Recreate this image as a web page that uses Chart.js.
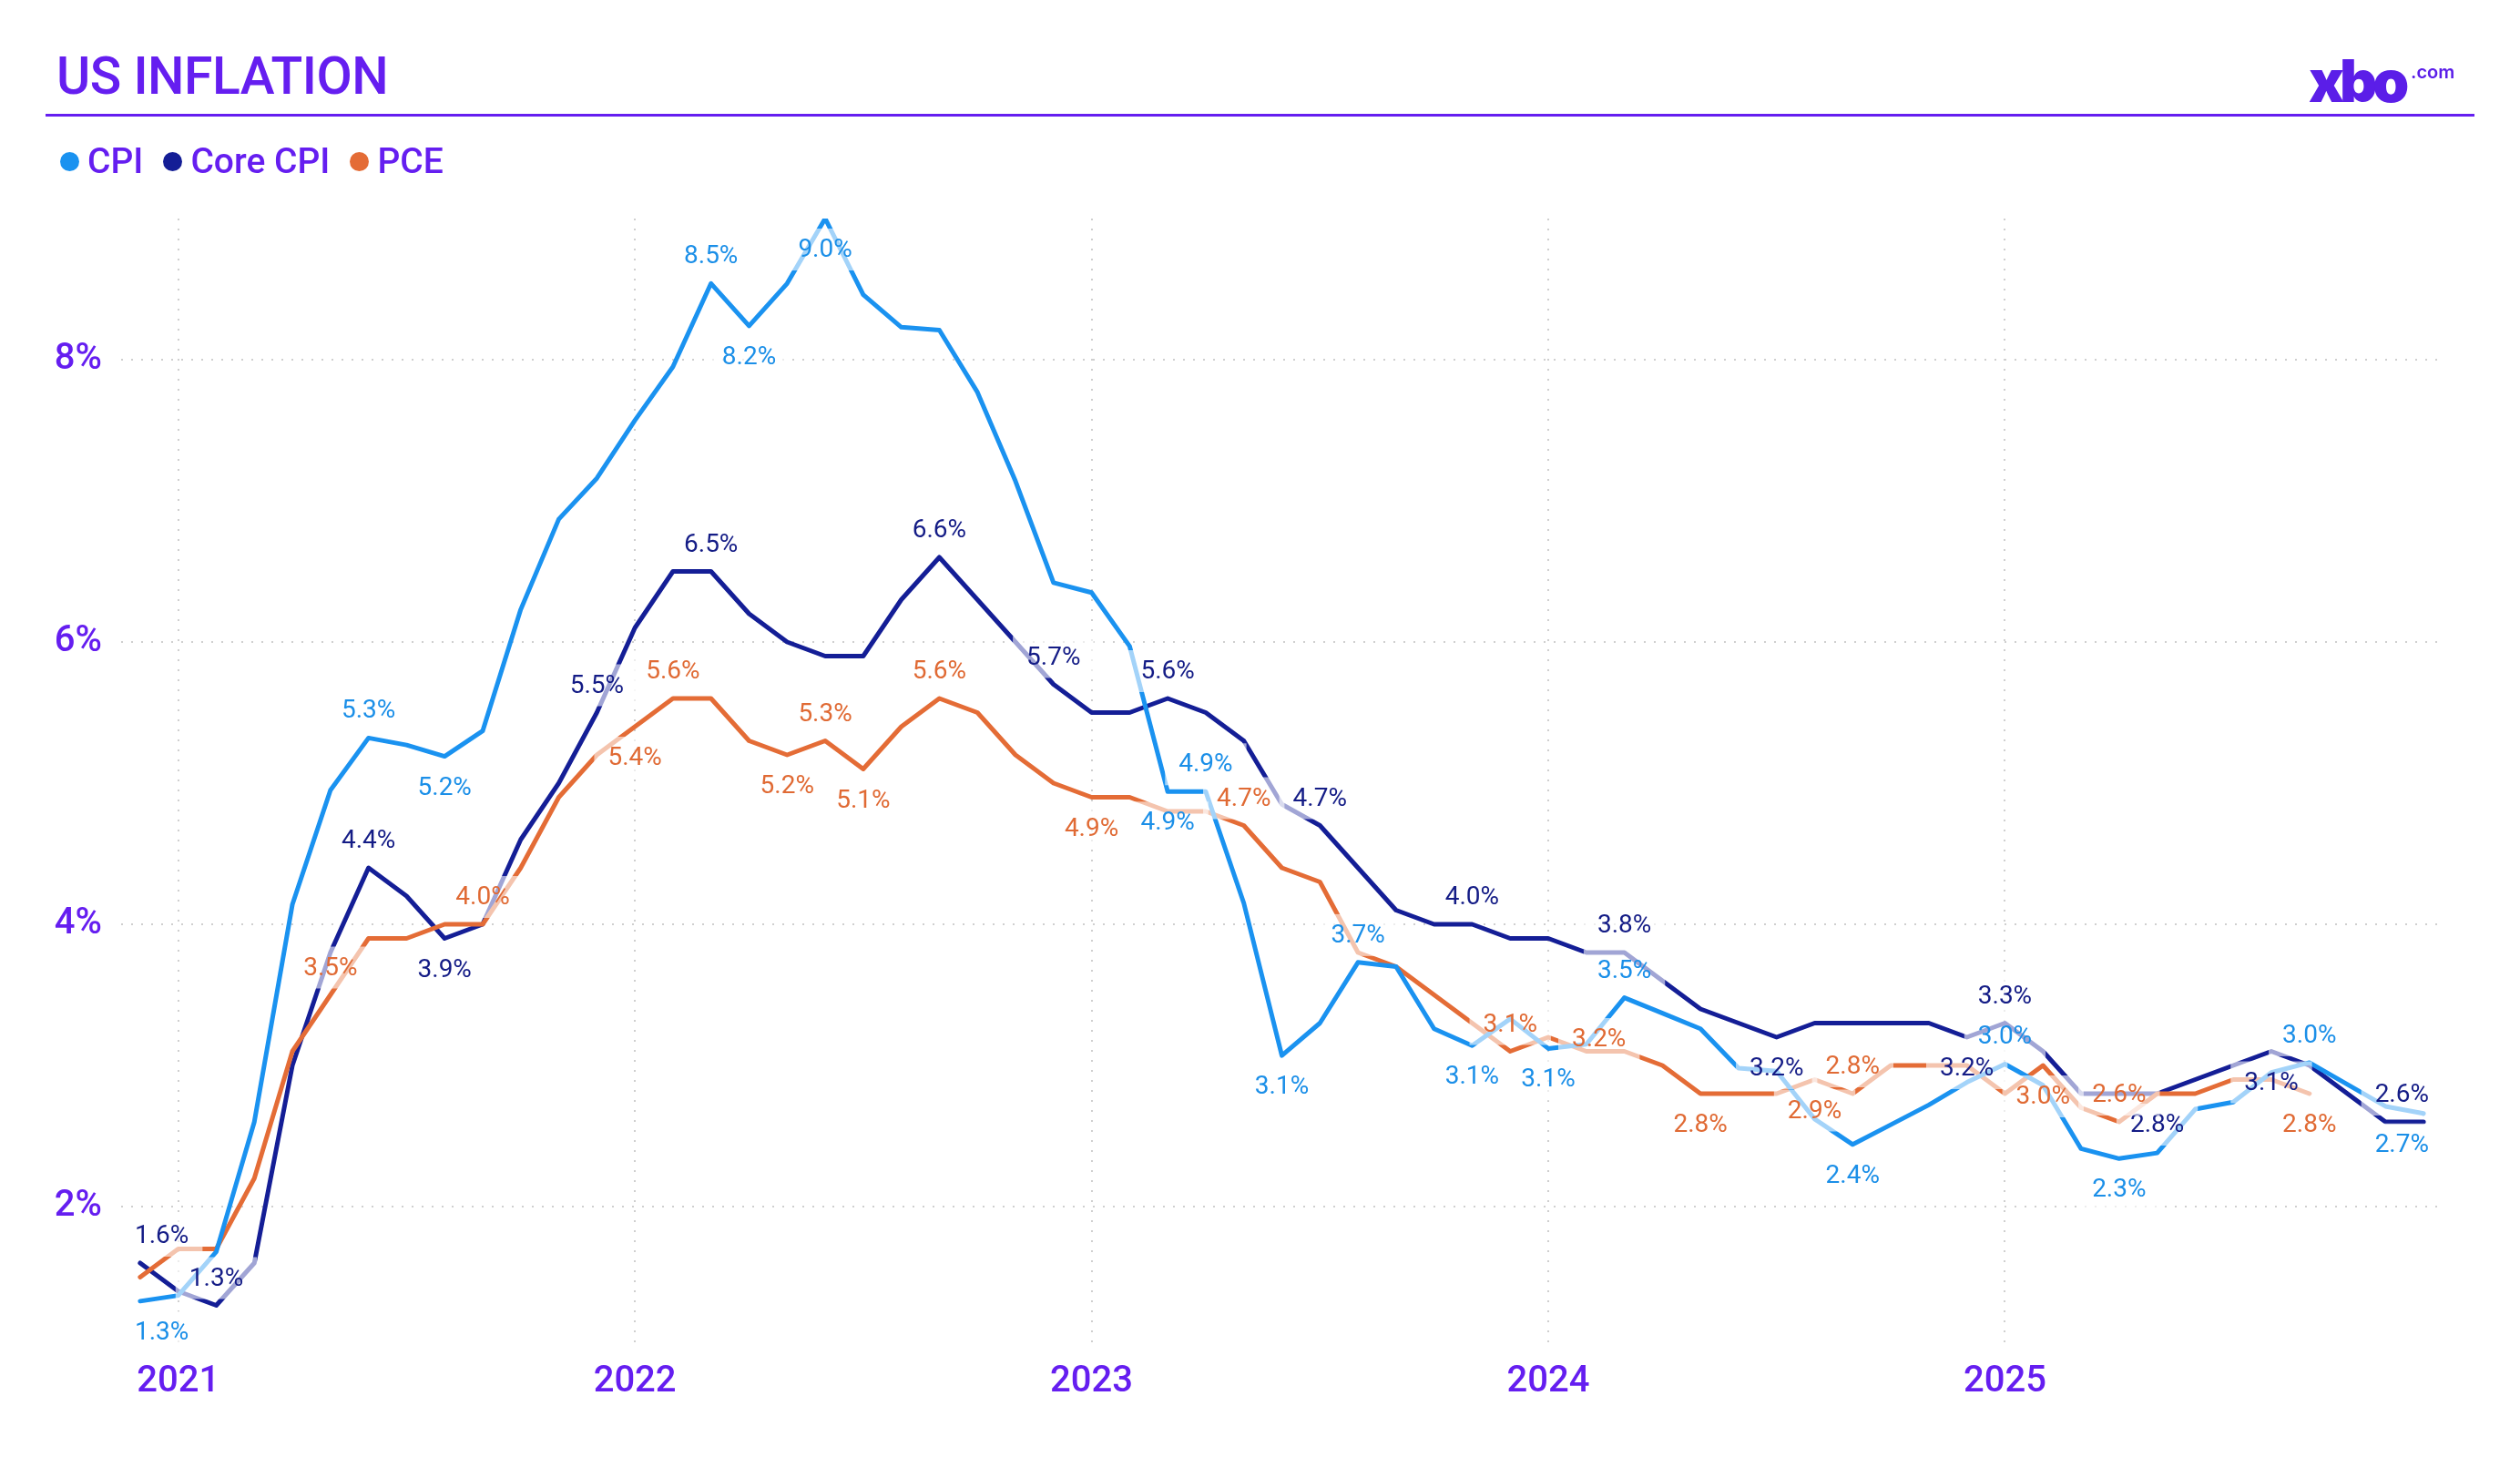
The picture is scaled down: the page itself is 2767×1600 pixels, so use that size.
<!DOCTYPE html>
<html>
<head>
<meta charset="utf-8">
<title>US Inflation</title>
<script src="https://cdn.jsdelivr.net/npm/chart.js@4.4.1/dist/chart.umd.min.js"></script>
<style>
  body { margin: 0; background: #fff; }
  #wrap { position: relative; width: 2767px; height: 1600px; overflow: hidden; background: #fff; }
  #chartBox { position: absolute; left: 0; top: 0; width: 2767px; height: 1600px; }
  .head { font-family: Roboto, 'DejaVu Sans', sans-serif; font-weight: 500; }
  #title { position: absolute; left: 62px; top: 55px; font-size: 57px; line-height: 57px; color: #651ef0; letter-spacing: -0.5px; white-space: nowrap; }
  #rule { position: absolute; left: 50px; top: 125px; width: 2667px; height: 3px; background: #651ef0; }
  #logo { position: absolute; left: 2535px; top: 57px; color: #5b1ee8; white-space: nowrap; }
  #logo .x { font-family: Inter, 'DejaVu Sans', sans-serif; font-weight: 900; font-size: 64px; line-height: 64px; letter-spacing: -5px; }
  #logo .com { position: absolute; left: 112px; top: 12px; font-family: Inter, sans-serif; font-weight: 600; font-size: 20px; line-height: 20px; }
  #legend { position: absolute; left: 66px; top: 158px; display: flex; align-items: center; font-size: 39px; line-height: 39px; color: #651ef0; }
  .item { display: flex; align-items: center; margin-right: 22px; }
  .dot { width: 21px; height: 21px; border-radius: 50%; margin-right: 9px; }
</style>
</head>
<body>
<div id="wrap">
  <div id="chartBox"><canvas id="chart"></canvas></div>
  <div id="title" class="head">US INFLATION</div>
  <div id="rule"></div>
  <div id="logo"><span class="x">xbo</span><span class="com">.com</span></div>
  <div id="legend" class="head">
    <div class="item"><span class="dot" style="background:#1a92f0"></span>CPI</div>
    <div class="item"><span class="dot" style="background:#141e96"></span>Core CPI</div>
    <div class="item"><span class="dot" style="background:#e46c36"></span>PCE</div>
  </div>
</div>
<script>
// months, Dec 2020 .. Dec 2025
const months = [
  '2020-12',
  '2021-01','2021-02','2021-03','2021-04','2021-05','2021-06','2021-07','2021-08','2021-09','2021-10','2021-11','2021-12',
  '2022-01','2022-02','2022-03','2022-04','2022-05','2022-06','2022-07','2022-08','2022-09','2022-10','2022-11','2022-12',
  '2023-01','2023-02','2023-03','2023-04','2023-05','2023-06','2023-07','2023-08','2023-09','2023-10','2023-11','2023-12',
  '2024-01','2024-02','2024-03','2024-04','2024-05','2024-06','2024-07','2024-08','2024-09','2024-10','2024-11','2024-12',
  '2025-01','2025-02','2025-03','2025-04','2025-05','2025-06','2025-07','2025-08','2025-09','2025-10','2025-11','2025-12'
];

const cpi = [
  1.33,
  1.37, 1.68, 2.6, 4.14, 4.95, 5.32, 5.27, 5.19, 5.37, 6.23, 6.87, 7.16,
  7.57, 7.95, 8.54, 8.24, 8.54, 9.0, 8.46, 8.23, 8.21, 7.77, 7.14, 6.42,
  6.35, 5.97, 4.94, 4.94, 4.15, 3.07, 3.3, 3.73, 3.7, 3.26, 3.14, 3.33,
  3.12, 3.15, 3.48, 3.37, 3.26, 2.98, 2.96, 2.62, 2.44, 2.58, 2.72, 2.88,
  3.01, 2.86, 2.41, 2.34, 2.38, 2.69, 2.74, 2.95, 3.02, null, 2.71, 2.66
];

const coreCpi = [
  1.6,
  1.4, 1.3, 1.6, 3.0, 3.8, 4.4, 4.2, 3.9, 4.0, 4.6, 5.0, 5.5,
  6.1, 6.5, 6.5, 6.2, 6.0, 5.9, 5.9, 6.3, 6.6, 6.3, 6.0, 5.7,
  5.5, 5.5, 5.6, 5.5, 5.3, 4.85, 4.7, 4.4, 4.1, 4.0, 4.0, 3.9,
  3.9, 3.8, 3.8, 3.6, 3.4, 3.3, 3.2, 3.3, 3.3, 3.3, 3.3, 3.2,
  3.3, 3.1, 2.8, 2.8, 2.8, 2.9, 3.0, 3.1, 3.0, null, 2.6, 2.6
];

const pce = [
  1.5,
  1.7, 1.7, 2.2, 3.1, 3.5, 3.9, 3.9, 4.0, 4.0, 4.4, 4.9, 5.2,
  5.4, 5.6, 5.6, 5.3, 5.2, 5.3, 5.1, 5.4, 5.6, 5.5, 5.2, 5.0,
  4.9, 4.9, 4.8, 4.8, 4.7, 4.4, 4.3, 3.8, 3.7, 3.5, 3.3, 3.1,
  3.2, 3.1, 3.1, 3.0, 2.8, 2.8, 2.8, 2.9, 2.8, 3.0, 3.0, 3.0,
  2.8, 3.0, 2.7, 2.6, 2.8, 2.8, 2.9, 2.9, 2.8, null, null, null
];

const yTicks = [2, 4, 6, 8];

// which points carry a value label, and on which side
const cpiMarks = [[0,'below'],[6,'above'],[8,'below'],[15,'above'],[16,'below'],[18,'above'],
  [27,'below'],[28,'above'],[30,'below'],[32,'above'],[35,'below'],[37,'below'],[39,'above'],
  [45,'below'],[49,'above'],[52,'below'],[57,'above'],[60,'below']];
const coreMarks = [[0,'above'],[2,'above'],[6,'above'],[8,'below'],[12,'above'],[15,'above'],
  [21,'above'],[24,'above'],[27,'above'],[31,'above'],[35,'above'],[39,'above'],[43,'below'],
  [48,'below'],[49,'above'],[53,'below'],[56,'below'],[60,'above']];
const pceMarks = [[5,'above'],[9,'above'],[13,'below'],[14,'above'],[17,'below'],[18,'above'],
  [19,'below'],[21,'above'],[25,'below'],[29,'above'],[36,'above'],[37,'right'],[41,'below'],
  [44,'below'],[45,'above'],[50,'below'],[52,'above'],[57,'below']];

const purple = '#651ef0';
const tickFont = { family: "Roboto, 'DejaVu Sans', sans-serif", size: 40, weight: 500 };
const gridColor = '#cfcfcf';
const markSets = [cpiMarks, coreMarks, pceMarks];
const labelColors = ['#1b8fe8', '#141c86', '#e06a34'];

const pointLabels = {
  id: 'pointLabels',
  afterDatasetsDraw(chart) {
    const ctx = chart.ctx;
    const area = chart.chartArea;
    ctx.save();
    ctx.font = '28px Roboto, sans-serif';
    ctx.textAlign = 'center';
    ctx.textBaseline = 'middle';
    chart.data.datasets.forEach((ds, di) => {
      const meta = chart.getDatasetMeta(di);
      markSets[di].forEach(([i, pos]) => {
        const pt = meta.data[i];
        const text = ds.data[i].toFixed(1) + '%';
        const tw = ctx.measureText(text).width;
        const w = tw + 30, h = 46;
        let cx = pt.x, cy;
        if (pos === 'right') { cx = pt.x + 26 + tw / 2; cy = pt.y + 2; }
        else if (pos === 'above') cy = pt.y - 30;
        else cy = pt.y + 34;
        if (cy - h / 2 < area.top) cy = pt.y + 34;
        cx = Math.max(area.left + w / 2, Math.min(area.right - w / 2, cx));
        ctx.fillStyle = 'rgba(255,255,255,0.6)';
        ctx.fillRect(cx - w / 2, cy - h / 2, w, h);
        ctx.fillStyle = labelColors[di];
        ctx.fillText(text, cx, cy + 1);
      });
    });
    ctx.restore();
  }
};

const data = {
  labels: months,
  datasets: [
    { label: 'CPI', data: cpi, borderColor: '#1a92f0', order: 0 },
    { label: 'Core CPI', data: coreCpi, borderColor: '#141e96', order: 2 },
    { label: 'PCE', data: pce, borderColor: '#e46c36', order: 1 }
  ]
};

const config = {
  type: 'line',
  data: data,
  options: {
    responsive: true,
    maintainAspectRatio: false,
    devicePixelRatio: 1,
    animation: false,
    events: [],
    spanGaps: true,
    layout: { padding: { top: 240, right: 85, bottom: 0, left: 0 } },
    elements: {
      line: { borderWidth: 5, tension: 0, borderJoinStyle: 'round', borderCapStyle: 'round', fill: false },
      point: { radius: 0 }
    },
    plugins: {
      legend: { display: false },
      tooltip: { enabled: false }
    },
    scales: {
      x: {
        offset: true,
        afterFit: (scale) => { scale.height = 120; },
        grid: {
          offset: false,
          drawTicks: false,
          lineWidth: 2,
          color: (c) => (months[c.index] && months[c.index].endsWith('-01')) ? gridColor : 'rgba(0,0,0,0)'
        },
        border: { display: false, dash: [2, 9] },
        ticks: {
          autoSkip: false,
          maxRotation: 0,
          padding: 14,
          color: purple,
          font: tickFont,
          callback: (v, i) => months[i].endsWith('-01') ? months[i].slice(0, 4) : ''
        }
      },
      y: {
        min: 1,
        max: 9,
        afterFit: (scale) => { scale.width = 133; },
        afterBuildTicks: (axis) => { axis.ticks = yTicks.map(v => ({ value: v })); },
        grid: { drawTicks: false, lineWidth: 2, color: gridColor },
        border: { display: false, dash: [2, 9] },
        ticks: {
          padding: 21,
          color: purple,
          font: tickFont,
          callback: (v) => v + '%'
        }
      }
    }
  },
  plugins: [pointLabels]
};

let ctx = document.getElementById('chart').getContext('2d');
new Chart(ctx, config);
</script>
</body>
</html>
